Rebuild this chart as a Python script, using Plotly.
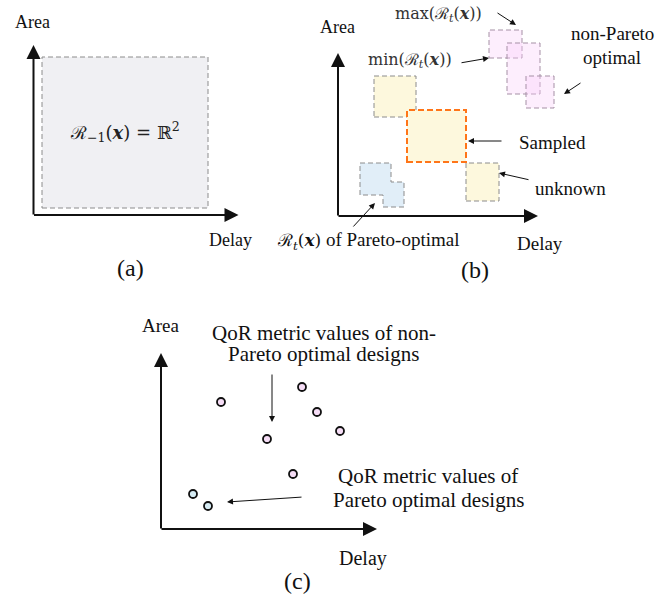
import plotly.graph_objects as go

# ---------------- data (local units: delay, area measured from each panel's axis origin) -------------
# panel (a): whole objective space
a_region_delay = [8.5, 174.5]
a_region_area = [7, 158]

# panel (b): uncertainty regions R_t(x)
b_unknown_names = ["unknown-1", "unknown-2"]
b_unknown_delay_lo = [36, 128]
b_unknown_delay_hi = [78, 161]
b_unknown_area_lo = [99, 15]
b_unknown_area_hi = [140, 53]

b_sampled_delay = [69, 128]
b_sampled_area = [54, 106]

b_pareto_delay_lo = [22, 45]
b_pareto_delay_hi = [53, 66]
b_pareto_area_lo = [21, 9]
b_pareto_area_hi = [53, 34]

b_nonpareto_delay_lo = [151, 169, 188]
b_nonpareto_delay_hi = [184, 202, 216]
b_nonpareto_area_lo = [158, 122, 108]
b_nonpareto_area_hi = [186, 173, 140]

# panel (c): QoR metric values
c_nonpareto_delay = [60, 141, 156, 179, 106, 132]
c_nonpareto_area = [127, 142, 117, 98, 90, 55]
c_pareto_delay = [32, 47]
c_pareto_area = [35, 23]

# ---------------- layout helpers -------------
W, H = 666, 600
ORIG = {"a": (33.5, 215.0), "b": (338.0, 216.0), "c": (161.0, 529.0)}
AXLEN = {"a": (205, 170), "b": (200, 163), "c": (216, 176)}


def px(p, d):
    return ORIG[p][0] + d


def py(p, a):
    return ORIG[p][1] - a


SERIF = "Liberation Serif"
MATH = "DejaVu Serif"
GRAY = "#8c8c8c"

fig = go.Figure()
shapes = []
annotations = []


def rect(p, x0, x1, y0, y1, fill, line_color=GRAY, width=1, dash="5px,3px"):
    shapes.append(dict(type="rect", xref="x", yref="y",
                       x0=px(p, x0), x1=px(p, x1), y0=py(p, y0), y1=py(p, y1),
                       fillcolor=fill,
                       line=dict(color=line_color, width=width, dash=dash), layer="below"))


def text(x, y, s, size, family=SERIF, color="#111"):
    annotations.append(dict(x=x, y=y, xref="x", yref="y", text=s, showarrow=False,
                            xanchor="center", yanchor="middle",
                            font=dict(family=family, size=size, color=color)))


def arrow(tail, head, width=1, size=1.2):
    annotations.append(dict(x=head[0], y=head[1], ax=tail[0], ay=tail[1],
                            xref="x", yref="y", axref="x", ayref="y", text="",
                            showarrow=True, arrowhead=2, arrowsize=size,
                            arrowwidth=width, arrowcolor="#111", standoff=0, startstandoff=0))


def axes(p):
    ox, oy = ORIG[p]
    lx, ly = AXLEN[p]
    arrow((ox - 1, oy), (ox + lx, oy), width=2, size=1.4)
    arrow((ox, oy + 1), (ox, oy - ly), width=2, size=1.4)


RX = "<b><i>x</i></b>"
RT = "ℛ<sub><i>t</i></sub>"

# ---- panel (a)
rect("a", a_region_delay[0], a_region_delay[1], a_region_area[0], a_region_area[1], "#f0f0f3")
axes("a")
text(32, 22, "Area", 18)
text(230, 240, "Delay", 18)
text(130, 268, "(a)", 24)
text(125, 132, f"ℛ<sub>−1</sub>({RX}) = ℝ<sup>2</sup>", 18, family=MATH, color="#222")

# ---- panel (b)
for i in range(len(b_unknown_names)):
    rect("b", b_unknown_delay_lo[i], b_unknown_delay_hi[i], b_unknown_area_lo[i], b_unknown_area_hi[i], "#fdf8dd")
rect("b", b_sampled_delay[0], b_sampled_delay[1], b_sampled_area[0], b_sampled_area[1], "#fdf8dd",
     line_color="#ff7518", width=2, dash="6px,3px")
# Pareto-optimal regions: filled union with a single dashed outline
for i in range(len(b_pareto_delay_lo)):
    rect("b", b_pareto_delay_lo[i], b_pareto_delay_hi[i], b_pareto_area_lo[i], b_pareto_area_hi[i],
         "#e1eef8", line_color="rgba(0,0,0,0)", width=0)
d0, d1 = b_pareto_delay_lo[0], b_pareto_delay_hi[0]
e0, e1 = b_pareto_delay_lo[1], b_pareto_delay_hi[1]
a0, a1 = b_pareto_area_lo[0], b_pareto_area_hi[0]
f0, f1 = b_pareto_area_lo[1], b_pareto_area_hi[1]
poly = [(d0, a0), (d0, a1), (d1, a1), (d1, f1), (e1, f1), (e1, f0), (e0, f0), (e0, a0)]
path = "M " + " L ".join(f"{px('b', u)},{py('b', v)}" for u, v in poly) + " Z"
shapes.append(dict(type="path", xref="x", yref="y", path=path,
                   line=dict(color=GRAY, width=1, dash="5px,3px"), layer="below"))
for i in range(len(b_nonpareto_delay_lo)):
    rect("b", b_nonpareto_delay_lo[i], b_nonpareto_delay_hi[i], b_nonpareto_area_lo[i], b_nonpareto_area_hi[i],
         "rgba(250,205,250,0.35)", line_color="#a590a5")
axes("b")
text(337, 27, "Area", 18)
text(540, 243, "Delay", 19)
text(475, 270, "(b)", 24)
text(612, 33, "non-Pareto", 19)
text(612, 57, "optimal", 19)
text(552, 142, "Sampled", 19)
text(570, 188, "unknown", 19)
text(438, 14, f"max({RT}({RX}))", 16, family=MATH, color="#333")
text(410, 60, f"min({RT}({RX}))", 16, family=MATH, color="#333")
text(368, 241, f"<span style='font-family:DejaVu Serif;font-size:17px'>{RT}({RX})</span> of Pareto-optimal", 19)
arrow((496, 12), (516, 25))
arrow((460, 63), (489, 58))
arrow((582, 82), (564, 94))
arrow((503, 141), (468, 141))
arrow((530, 180), (499, 173))
arrow((352, 228), (375, 203))

# ---- panel (c)
axes("c")
fig.add_trace(go.Scatter(x=[px("c", v) for v in c_nonpareto_delay],
                         y=[py("c", v) for v in c_nonpareto_area],
                         mode="markers", cliponaxis=False, hoverinfo="skip",
                         marker=dict(size=8, color="#f6ddf6", line=dict(color="#111", width=1.8))))
fig.add_trace(go.Scatter(x=[px("c", v) for v in c_pareto_delay],
                         y=[py("c", v) for v in c_pareto_area],
                         mode="markers", cliponaxis=False, hoverinfo="skip",
                         marker=dict(size=8, color="#d6ecf4", line=dict(color="#111", width=1.8))))
text(160, 325, "Area", 19)
text(363, 558, "Delay", 20)
text(297, 581, "(c)", 24)
text(324, 333, "QoR metric values of non-", 21)
text(323, 354, "Pareto optimal designs", 21)
text(428, 476, "QoR metric values of", 21)
text(428, 500, "Pareto optimal designs", 21)
arrow((272, 373), (272, 422))
arrow((303, 497), (227, 502))

fig.update_layout(
    width=W, height=H, margin=dict(l=0, r=0, t=0, b=0),
    paper_bgcolor="white", plot_bgcolor="white", showlegend=False,
    xaxis=dict(range=[0, W], visible=False, fixedrange=True),
    yaxis=dict(range=[H, 0], visible=False, fixedrange=True),
    shapes=shapes, annotations=annotations,
)
fig.write_html("out.html", config={"displayModeBar": False},
               post_script="document.body.style.margin='0';document.body.style.overflow='hidden';")
